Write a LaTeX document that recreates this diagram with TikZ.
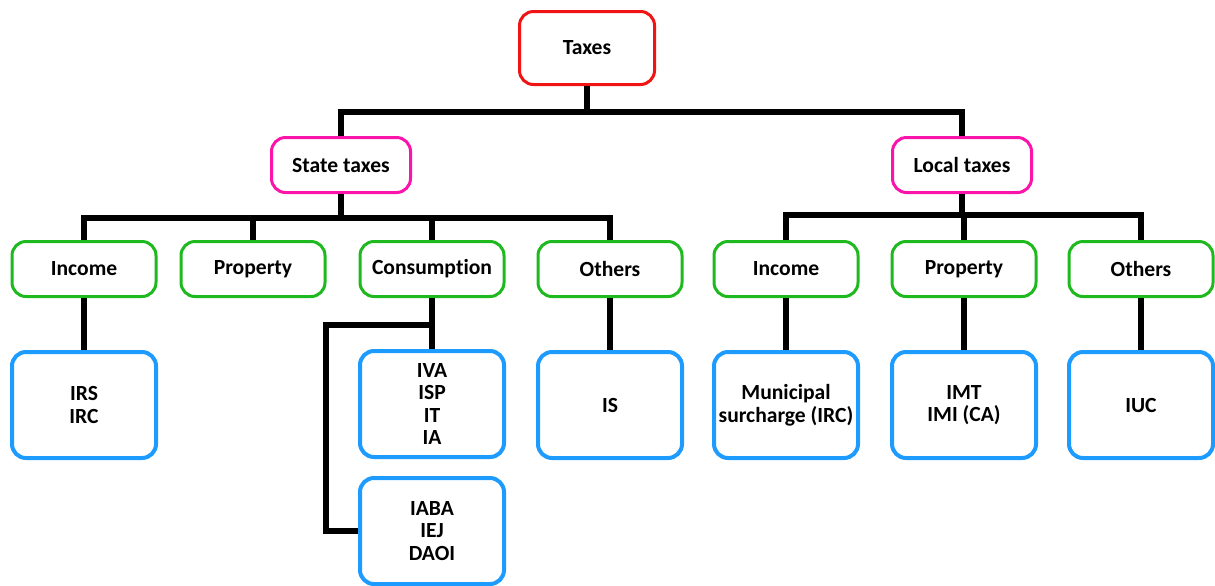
\documentclass[tikz,border=0pt]{standalone}
\usepackage{fontspec}
\setmainfont{Carlito}[Ligatures=NoCommon]
\usepackage{tikz}

\definecolor{taxred}{RGB}{240,20,20}
\definecolor{taxpink}{RGB}{250,20,170}
\definecolor{taxgreen}{RGB}{30,185,30}
\definecolor{taxblue}{RGB}{30,155,255}

\begin{document}
\begin{tikzpicture}[x=0.5pt,y=-0.5pt,
    box/.style={draw,fill=white,rounded corners=7pt,line width=1.5pt,align=center,
      font=\fontsize{10.8}{11.25}\selectfont\bfseries,inner sep=0pt},
    toptax/.style={box,draw=taxred,minimum width=67.5pt,minimum height=36.5pt},
    level/.style={box,draw=taxpink,minimum width=69.5pt,minimum height=27.5pt},
    kind/.style={box,draw=taxgreen,minimum width=72pt,minimum height=27.5pt},
    list/.style={box,draw=taxblue,line width=2pt,minimum width=72pt,minimum height=53pt},
    conn/.style={draw=black,line width=3pt}]
    \useasboundingbox (0,0) rectangle (1215,585);
    % boxes
    \node[toptax] (taxes) at (587,48) {Taxes};
    \node[level] (state) at (341,165) {State taxes};
    \node[level] (local) at (962,165) {Local taxes};
    \node[kind] (sinc) at (84,269) {Income};
    \node[kind] (sprop) at (253,269) {Property};
    \node[kind] (scons) at (432,269) {Consumption};
    \node[kind] (soth) at (610,269) {Others};
    \node[kind] (linc) at (786,269) {Income};
    \node[kind] (lprop) at (964,269) {Property};
    \node[kind] (loth) at (1141,269) {Others};
    \node[list] (irs) at (84,405) {IRS\\IRC};
    \node[list] (iva) at (432,404) {IVA\\ISP\\IT\\IA};
    \node[list] (is) at (610,405) {IS};
    \node[list] (munic) at (786,405) {Municipal\\surcharge (IRC)};
    \node[list] (imt) at (964,405) {IMT\\IMI (CA)};
    \node[list] (iuc) at (1141,405) {IUC};
    \node[list] (iaba) at (432,531) {IABA\\IEJ\\DAOI};
    % connectors
    \path (taxes.south) ++(0,26) coordinate (tbar);
    \draw[conn] (taxes.south) -- (tbar);
    \draw[conn] (state.north) |- (tbar) -| (local.north);
    \path (state.south) ++(0,24) coordinate (sbar);
    \draw[conn] (state.south) -- (sbar);
    \draw[conn] (sinc.north) |- (sbar) -| (soth.north);
    \draw[conn] (sprop.north) -- (sprop.north |- sbar);
    \draw[conn] (scons.north) -- (scons.north |- sbar);
    \path (local.south) ++(0,21) coordinate (lbar);
    \draw[conn] (local.south) -- (lbar);
    \draw[conn] (linc.north) |- (lbar) -| (loth.north);
    \draw[conn] (lprop.north) -- (lprop.north |- lbar);
    \draw[conn] (sinc.south) -- (irs.north);
    \draw[conn] (scons.south) -- (iva.north);
    \path (scons.south) ++(0,27) coordinate (cbr);
    \draw[conn] (cbr) -- ++(-106,0) |- (iaba.west);
    \draw[conn] (soth.south) -- (is.north);
    \draw[conn] (linc.south) -- (munic.north);
    \draw[conn] (lprop.south) -- (imt.north);
    \draw[conn] (loth.south) -- (iuc.north);
\end{tikzpicture}
\end{document}
